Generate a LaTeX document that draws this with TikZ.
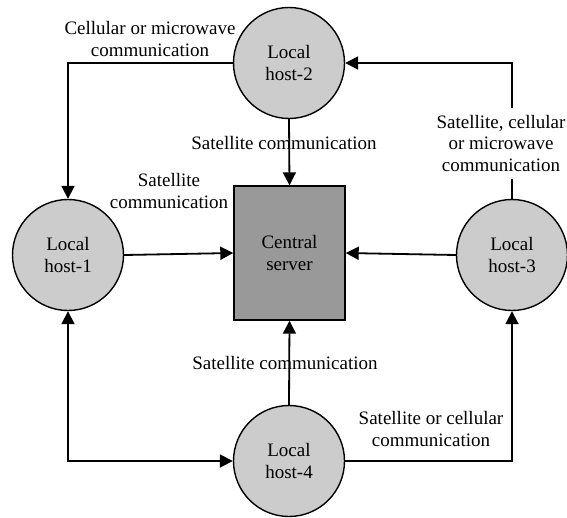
\documentclass[tikz,border=0pt]{standalone}
\usepackage{fontspec}
\setmainfont{Liberation Serif}
\usetikzlibrary{arrows.meta}
\definecolor{hostgray}{HTML}{CCCCCC}
\definecolor{srvgray}{HTML}{999999}
\tikzset{
  txt/.style={font=\fontsize{19}{21.5}\selectfont, align=center, inner sep=0pt},
  host/.style={circle, draw, line width=1.4pt, fill=hostgray, minimum size=111pt, inner sep=0pt, txt},
  srvbox/.style={rectangle, draw, line width=1.4pt, fill=srvgray, minimum width=111pt, minimum height=134pt, inner sep=0pt, txt},
  conn/.style={line width=1.8pt},
  arr/.style={conn, -{Triangle[length=13pt,width=13pt]}},
  darr/.style={conn, {Triangle[length=13pt,width=13pt]}-{Triangle[length=13pt,width=13pt]}},
  lbl/.style={txt}
}
\begin{document}
\begin{tikzpicture}[x=1pt,y=-1pt]
\useasboundingbox (0,0) rectangle (567,517);
\node[host] (h2) at (289,63) {Local\\host-2};
\node[host] (h1) at (68,255) {Local\\host-1};
\node[host] (h3) at (512,255) {Local\\host-3};
\node[host] (h4) at (289,461) {Local\\host-4};
\node[srvbox] (srv) at (289.5,253) {Central\\server};

\node[lbl] (l21) at (150,39) {Cellular or microwave\\communication};
\node[lbl] (l2s) at (284,143) {Satellite communication};
\node[lbl] (l1s) at (169,191) {Satellite\\communication};
\node[lbl] (l4s) at (285,363) {Satellite communication};
\node[lbl] (l43) at (431,429) {Satellite or cellular\\communication};
\node[lbl, inner sep=6pt] (l32) at (501,143) {Satellite, cellular\\or microwave\hspace*{20pt}\\communication};
\coordinate (l32n) at (512,108);
\coordinate (l32s) at (512,179);

\draw[arr] (h2.south) -- (srv.north);
\draw[arr] (h2.west) -| (h1.north);
\draw[arr] (h1.east) -- (srv.west);
\draw[arr] (h3.west) -- (srv.east);
\draw[conn] (h3.north) -- (l32s);
\draw[arr] (l32n) |- (h2.east);
\draw[arr] (h4.north) -- (srv.south);
\draw[darr] (h1.south) |- (h4.west);
\draw[arr] (h4.east) -| (h3.south);
\end{tikzpicture}
\end{document}
